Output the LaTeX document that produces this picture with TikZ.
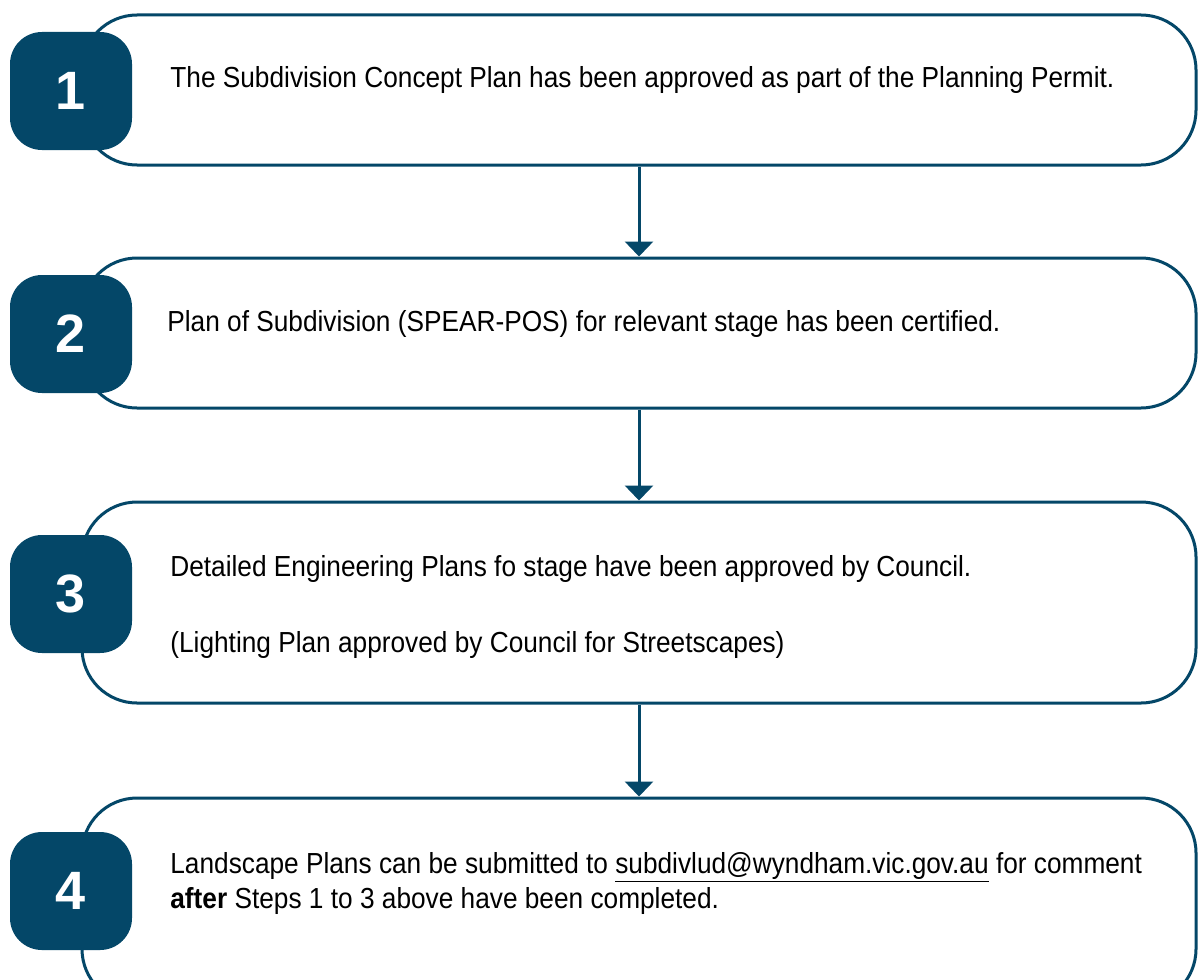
\documentclass[tikz,border=0pt]{standalone}
\usepackage{fontspec}
\setmainfont{Liberation Sans}[FakeStretch=0.905]
\newfontfamily\numfont{Liberation Sans}
\usetikzlibrary{arrows.meta}
\definecolor{stepblue}{RGB}{4,71,104}
\tikzset{
    stepbox/.style={draw=stepblue,line width=1.5pt,fill=white,rounded corners=27.5pt,minimum width=557pt,inner sep=0pt},
    badge/.style={fill=stepblue,text=white,rounded corners=16pt,minimum width=61pt,minimum height=59pt,inner sep=0pt,font=\numfont\fontsize{27}{30}\selectfont\bfseries},
    steptext/.style={anchor=base west,inner sep=0pt,font=\fontsize{14.5}{17.5}\selectfont},
    flowarrow/.style={draw=stepblue,line width=1.5pt,-{Triangle[width=14pt,length=7.5pt]}}
}
\begin{document}
\begin{tikzpicture}[x=0.5pt,y=-0.5pt]
        \useasboundingbox (0,0) rectangle (1202,979);
        \clip (0,0) rectangle (1202,979);
        % boxes
        \node [stepbox,minimum height=75pt] (box1) at (639,90) {};
        \node [stepbox,minimum height=75pt] (box2) at (639,333) {};
        \node [stepbox,minimum height=100.5pt] (box3) at (639,602.5) {};
        \node [stepbox,minimum height=103pt] (box4) at (639,901) {};
        % numbers
        \node [badge] (num1) at (71,91) {1};
        \node [badge] (num2) at (71,334) {2};
        \node [badge] (num3) at (71,594) {3};
        \node [badge] (num4) at (71,891) {4};
        % texts
        \node [steptext] (txt1) at (170,88) {The Subdivision Concept Plan has been approved as part of the Planning Permit.};
        \node [steptext] (txt2) at (167,331) {Plan of Subdivision (SPEAR-POS) for relevant stage has been certified.};
        \node [steptext] (txt3a) at (170,576) {Detailed Engineering Plans fo stage have been approved by Council.};
        \node [steptext] (txt3b) at (170,652) {(Lighting Plan approved by Council for Streetscapes)};
        \node [steptext] (txt4a) at (170,873) {Landscape Plans can be submitted to \underline{subdivlud@wyndham.vic.gov.au} for comment};
        \node [steptext] (txt4b) at (170,908) {\textbf{after} Steps 1 to 3 above have been completed.};
        % arrows
        \draw [flowarrow] (box1.south) -- (box2.north);
        \draw [flowarrow] (box2.south) -- (box3.north);
        \draw [flowarrow] (box3.south) -- (box4.north);
    \end{tikzpicture}
\end{document}
